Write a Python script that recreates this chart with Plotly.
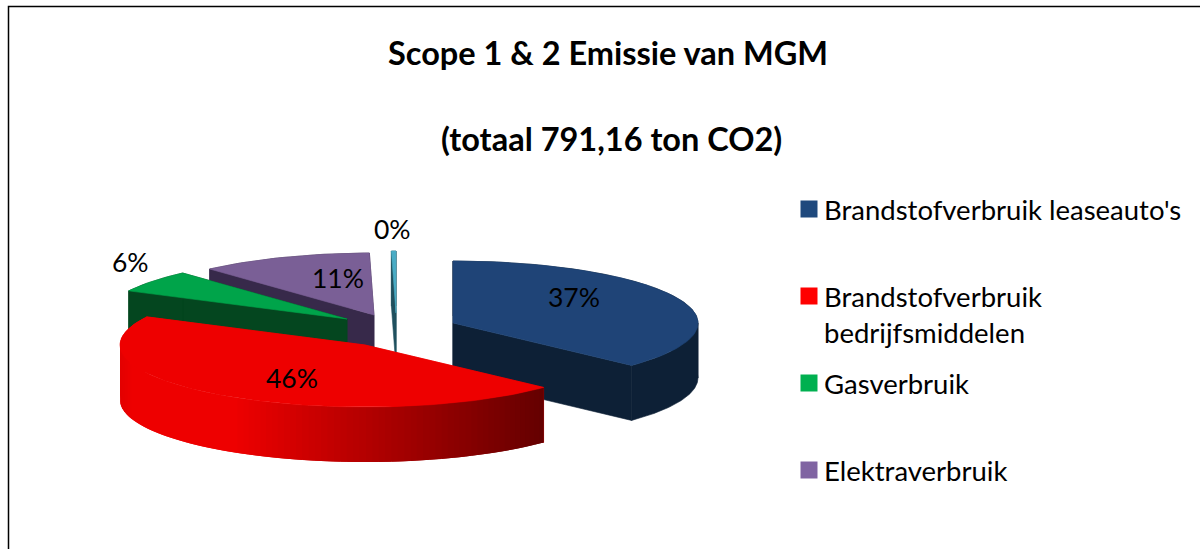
import math
import plotly.graph_objects as go

# --- data ---
categories = ["Brandstofverbruik leaseauto's", "Brandstofverbruik<br>bedrijfsmiddelen", "Gasverbruik", "Elektraverbruik", "Overig"]
shares = [37.0, 45.5, 5.8, 11.4, 0.3]
pct_labels = ["37%", "46%", "6%", "11%", "0%"]
title_lines = ["Scope 1 & 2 Emissie van MGM", "(totaal 791,16 ton CO2)"]

# --- styles / geometry ---
top_colors = ["#1f4477", "#ee0000", "#00a44a", "#7a5f96", "#4aacc5"]
side_colors = ["#0d2036", "#ee0000", "#04461f", "#37294a", "#20505e"]
legend_colors = ["#1f497d", "#ff0000", "#00b050", "#8064a2"]
centers = [(453, 323), (365, 345), (347, 319), (374, 315), (396, 313)]
label_pos = [(574, 297), (292, 378), (130, 262), (338, 278), (392, 229)]
legend_y = [209, 296, 383, 470]
draw_order = [0, 4, 3, 2, 1]
RX, RY, DEPTH = 245, 62, 55
FONT = "Lato"

fig = go.Figure()


def poly(xs, ys, color, lw=0.6):
    fig.add_trace(go.Scatter(x=xs + xs[:1], y=ys + ys[:1], mode="lines", fill="toself",
                             fillcolor=color, line=dict(color=color, width=lw),
                             hoverinfo="skip", showlegend=False))


def pt(c, frac):
    a = 2 * math.pi * frac
    return c[0] + RX * math.sin(a), c[1] - RY * math.cos(a)


def red_shade(x):
    t = min(max((x - 235) / (545 - 235), 0), 1)
    r = 238 - 138 * t
    if x < 132:
        r = 226 + (x - 119) * 12 / 13
    return "rgb(%d,0,0)" % r


starts = []
acc = 0.0
total = sum(shares)
for v in shares:
    starts.append(acc / total)
    acc += v

for i in draw_order:
    c = centers[i]
    f0 = starts[i]
    f1 = f0 + shares[i] / total
    n = max(3, int((f1 - f0) * 240))
    fr = [f0 + (f1 - f0) * k / n for k in range(n + 1)]
    arc = [pt(c, f) for f in fr]
    # cut faces
    for p in (arc[0], arc[-1]):
        poly([c[0], p[0], p[0], c[0]], [c[1], p[1], p[1] + DEPTH, c[1] + DEPTH], side_colors[i])
    # rim
    if i == 1:
        for k in range(len(arc) - 1, 0, -1):
            a, b = arc[k], arc[k - 1]
            e = arc[max(k - 2, 0)]
            poly([a[0], b[0], e[0], e[0], b[0], a[0]],
                 [a[1], b[1], e[1], e[1] + DEPTH, b[1] + DEPTH, a[1] + DEPTH],
                 red_shade((a[0] + b[0]) / 2), lw=0)
    else:
        # split at the rightmost point so each band stays a simple polygon
        for lo, hi in ((f0, min(f1, 0.25)), (max(f0, 0.25), f1)):
            if hi <= lo:
                continue
            part = [pt(c, lo + (hi - lo) * k / n) for k in range(n + 1)]
            poly([p[0] for p in part] + [p[0] for p in part[::-1]],
                 [p[1] for p in part] + [p[1] + DEPTH for p in part[::-1]], side_colors[i])
    # top
    poly([c[0]] + [p[0] for p in arc], [c[1]] + [p[1] for p in arc], top_colors[i])

ann = []
for txt, (x, y) in zip(pct_labels, label_pos):
    ann.append(dict(x=x, y=y, text=txt, showarrow=False, font=dict(family=FONT, size=26.5, color="#000000")))
for txt, y in zip(title_lines, (52, 138)):
    ann.append(dict(x=608 if y == 52 else 611, y=y, text="<b>%s</b>" % txt, showarrow=False,
                    font=dict(family=FONT, size=32.5, color="#000000")))

for name, col, y in zip(categories, legend_colors, legend_y):
    fig.add_trace(go.Scatter(x=[809], y=[y], mode="markers", hoverinfo="skip", showlegend=False,
                             marker=dict(symbol="square", size=17, color=col, line=dict(width=0))))
    ann.append(dict(x=822, y=y + (18 if "<br>" in name else 0), text=name, showarrow=False, xanchor="left", align="left",
                    font=dict(family=FONT, size=27.5, color="#000000")))

fig.update_layout(
    width=1200, height=549, margin=dict(l=0, r=0, t=0, b=0),
    paper_bgcolor="white", plot_bgcolor="white", showlegend=False,
    xaxis=dict(range=[0, 1200], visible=False, fixedrange=True),
    yaxis=dict(range=[549, 0], visible=False, fixedrange=True),
    annotations=ann,
    shapes=[dict(type="path", path="M 8.5 549 L 8.5 6.5 L 1200 6.5",
                 line=dict(color="#000000", width=1.5))],
)
fig.write_html("out.html", config=dict(displayModeBar=False),
               post_script="document.body.style.margin='0';document.documentElement.style.overflow='hidden';")
